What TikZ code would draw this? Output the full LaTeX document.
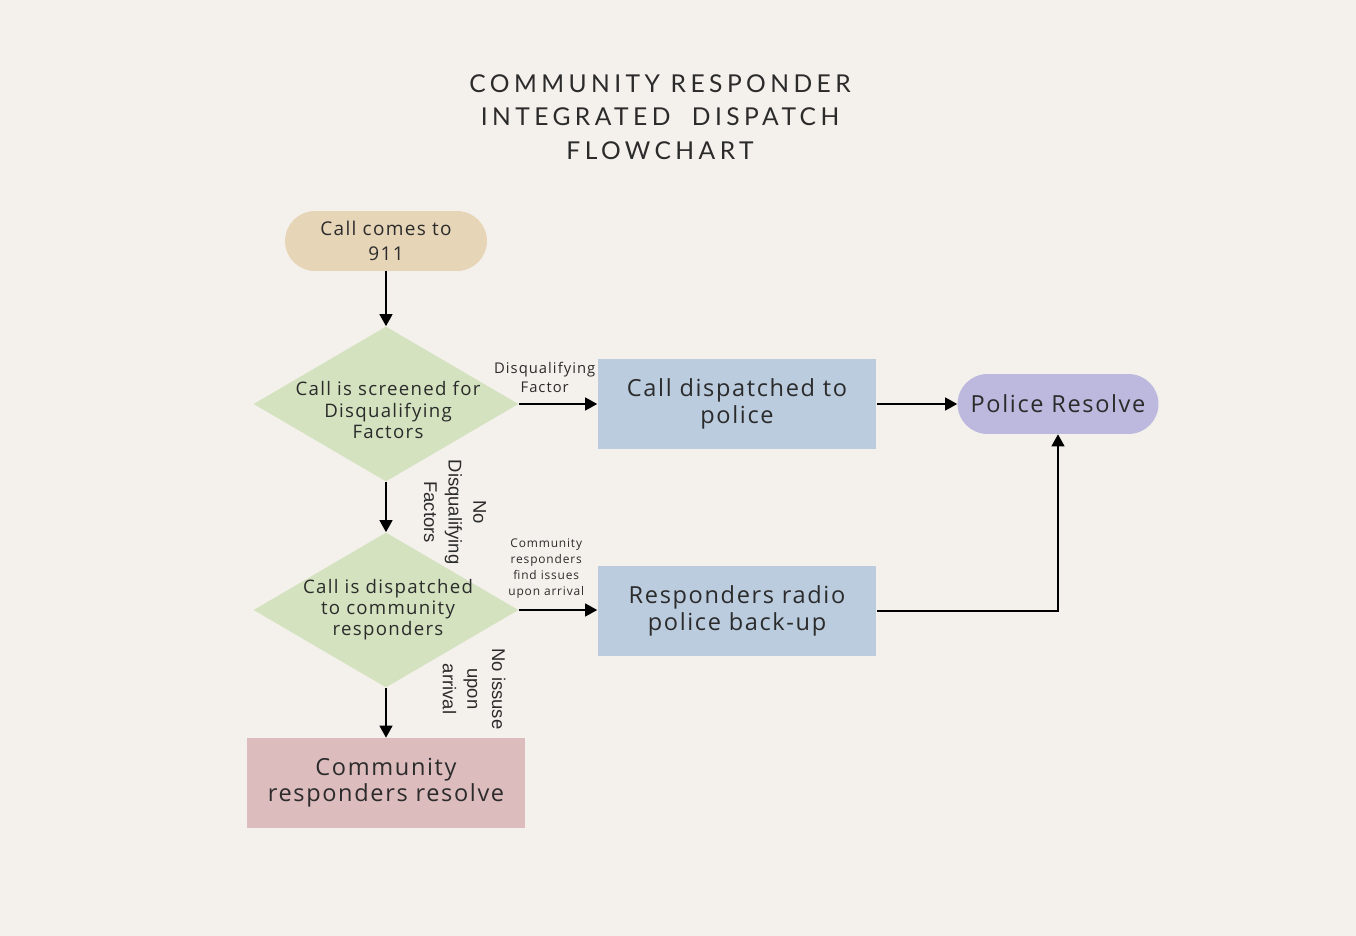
\documentclass[tikz,border=0pt]{standalone}
\usepackage{fontspec}
\setmainfont[LetterSpace=7]{Open Sans}
\newfontfamily\titlefont[LetterSpace=18]{Lato}
\newfontfamily\armfont{Liberation Sans}
\usetikzlibrary{arrows.meta,shapes.geometric}

\definecolor{paper}{HTML}{F4F1EC}
\definecolor{tan}{HTML}{E7D5B8}
\definecolor{sage}{HTML}{D4E2BF}
\definecolor{steel}{HTML}{BBCCDF}
\definecolor{lilac}{HTML}{BCB8DE}
\definecolor{rose}{HTML}{DDBCBE}
\definecolor{ink}{HTML}{2B2B2B}

\begin{document}
\begin{tikzpicture}[
    x=0.02cm,y=-0.02cm,
    pill/.style={rectangle,rounded corners=0.6cm,minimum width=4.04cm,minimum height=1.2cm,align=center,text=ink},
    decision/.style={diamond,fill=sage,minimum width=5.3cm,minimum height=3.1cm,inner sep=0pt},
    dtext/.style={align=center,font=\fontsize{10.6}{12}\selectfont,text=ink},
    action/.style={rectangle,minimum width=5.58cm,minimum height=1.82cm,align=center,font=\fontsize{13.4}{15}\selectfont,text=ink},
    flow/.style={-{Triangle[length=2.4mm,width=2.6mm]},line width=0.7pt,black},
    note/.style={font=\fontsize{8.4}{10.5}\selectfont,align=center,text=ink},
    armnote/.style={font=\armfont\fontsize{10.5}{14}\selectfont,align=center,rotate=-90,text=ink}
]
\fill[paper] (0,0) rectangle (1356,936);
\useasboundingbox (0,0) rectangle (1356,936);

% title
\node[font=\titlefont\fontsize{14}{19}\selectfont,align=center,text=ink] (title) at (660,117)
    {COMMUNITY RESPONDER\\INTEGRATED\ \ DISPATCH\\FLOWCHART};

% nodes
\node[pill,fill=tan,font=\fontsize{10.8}{14}\selectfont] (call) at (386,241) {Call comes to\\911};
\node[decision] (screen) at (386,404) {};
\node[dtext] (screentext) at (388,410) {Call is screened for\\Disqualifying\\Factors};
\node[decision] (dispatch) at (386,610) {};
\node[dtext] (dispatchtext) at (388,610) {Call is dispatched\\to community\\responders};
\node[action,fill=steel] (police) at (737,404) {Call dispatched to\\police};
\node[action,fill=steel] (backup) at (737,611) {Responders radio\\police back-up};
\node[pill,fill=lilac,minimum width=4.02cm,font=\fontsize{13.4}{15}\selectfont] (resolve) at (1058,404) {Police Resolve};
\node[action,fill=rose,minimum width=5.56cm,minimum height=1.8cm] (community) at (386,783) {Community\\responders resolve};

% connectors
\draw[flow] (call) -- (screen);
\draw[flow] (screen) -- (dispatch);
\draw[flow] (dispatch) -- (community);
\draw[flow] (screen.east) -- node[note,pos=0.33,above=3pt]{Disqualifying\\Factor} (police.west);
\draw[flow] (police.east) -- (resolve.west);
\draw[flow] (dispatch.east) -- node[note,font=\fontsize{6.8}{9}\selectfont,pos=0.35,above=3pt]{Community\\responders\\find issues\\upon arrival} (backup.west |- dispatch.east);
\draw[flow] (backup.east) -| (resolve.south);

% arm labels
\node[armnote] (noflag) at (455,512) {No\\Disqualifying\\Factors};
\node[armnote] (noissue) at (474,689) {No issuse\\upon\\arrival};
\end{tikzpicture}
\end{document}
